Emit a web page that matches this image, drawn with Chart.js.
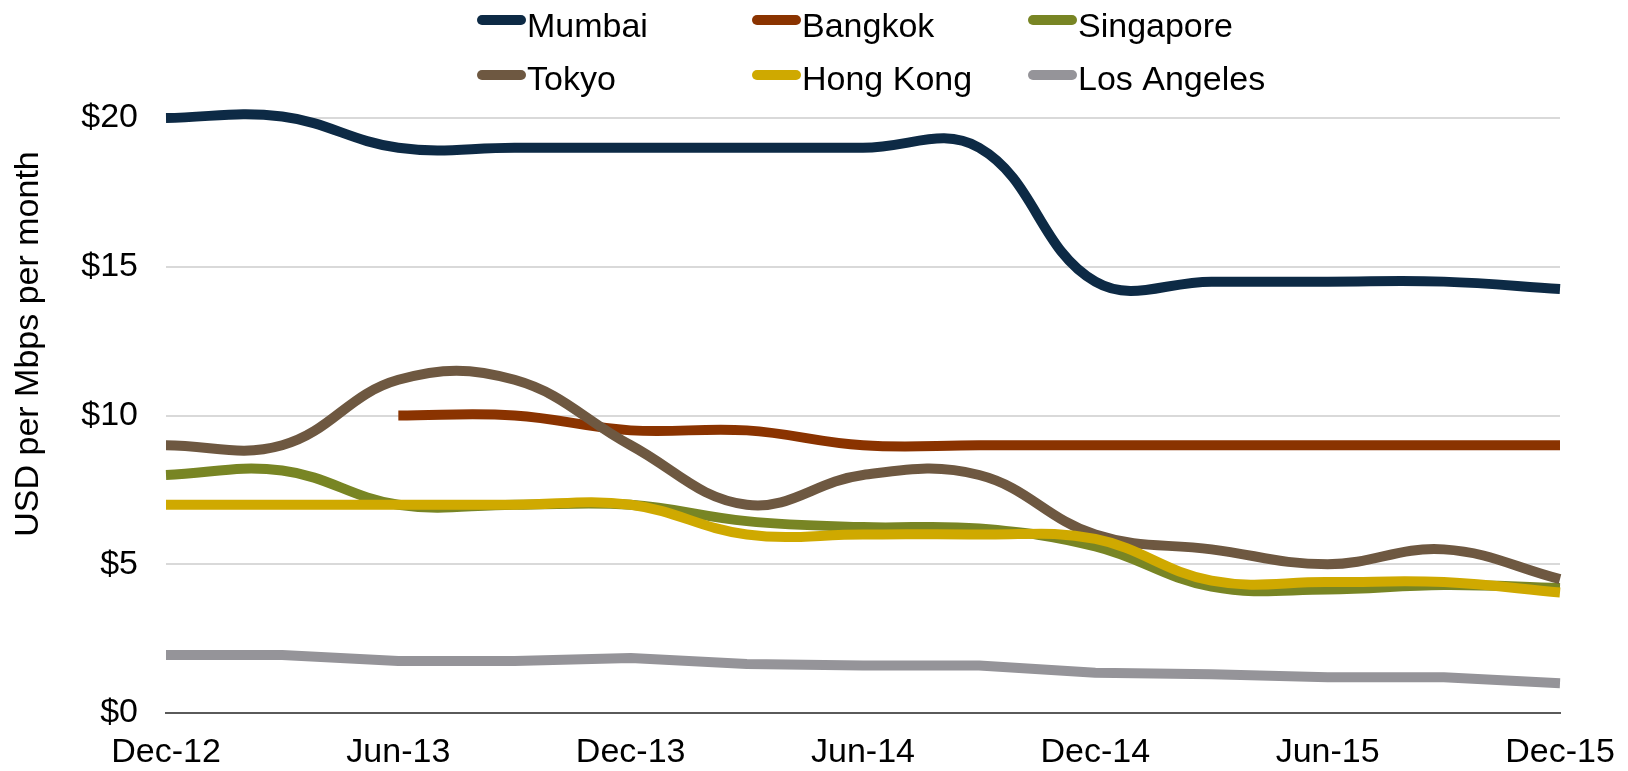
<!DOCTYPE html>
<html>
<head>
<meta charset="utf-8">
<script src="https://cdn.jsdelivr.net/npm/chart.js@4/dist/chart.umd.min.js"></script>
<style>
  html, body { margin: 0; padding: 0; background: #ffffff; }
  #wrap { width: 1628px; height: 771px; }
</style>
</head>
<body>
<div id="wrap"><canvas id="c" width="1628" height="771"></canvas></div>
<script>
// ---- data ----
const categories = ['Dec-12','Mar-13','Jun-13','Sep-13','Dec-13','Mar-14','Jun-14','Sep-14','Dec-14','Mar-15','Jun-15','Sep-15','Dec-15'];
const seriesNames = ['Mumbai','Bangkok','Singapore','Tokyo','Hong Kong','Los Angeles'];
const mumbai     = [20, 20.05, 19, 19, 19, 19, 19, 19, 14.5, 14.5, 14.5, 14.5, 14.25];
const bangkok    = [null, null, 10, 10, 9.5, 9.5, 9, 9, 9, 9, 9, 9, 9];
const singapore  = [8, 8.15, 7, 7, 7, 6.45, 6.25, 6.2, 5.6, 4.25, 4.15, 4.3, 4.2];
const tokyo      = [9, 9, 11.2, 11.2, 9, 7, 8, 8, 6, 5.5, 5, 5.5, 4.5];
const hongKong   = [7, 7, 7, 7, 7, 6, 6, 6, 5.85, 4.45, 4.4, 4.4, 4.05];
const losAngeles = [1.95, 1.95, 1.75, 1.75, 1.85, 1.65, 1.6, 1.6, 1.35, 1.3, 1.2, 1.2, 1.0];
const yTicks = [0, 5, 10, 15, 20];
const yTitle = 'USD per Mbps per month';

const colors = ['#0d2a45', '#8a3300', '#788524', '#6e5841', '#cfa900', '#959499'];
const values = [mumbai, bangkok, singapore, tokyo, hongKong, losAngeles];
const smooth = [true, true, true, true, true, false];

const FONT = '"Liberation Sans", Arial, Helvetica, sans-serif';
Chart.defaults.font.family = FONT;
Chart.defaults.color = '#000000';

const datasets = seriesNames.map((name, i) => ({
  label: name,
  data: values[i],
  borderColor: colors[i],
  backgroundColor: colors[i],
  borderWidth: 10,
  pointRadius: 0,
  pointHoverRadius: 0,
  tension: smooth[i] ? 0.4 : 0,
  fill: false,
  clip: false,
  borderCapStyle: 'butt',
  borderJoinStyle: 'round',
  order: seriesNames.length - 1 - i
}));

// custom legend (grid layout) + rotated axis title
const decorPlugin = {
  id: 'decor',
  afterDraw(chart) {
    const ctx = chart.ctx;
    ctx.save();
    const colX = [477, 752, 1028];
    const rowY = [20, 75];
    const baseY = [37, 90];
    ctx.font = '34px ' + FONT;
    ctx.textBaseline = 'alphabetic';
    ctx.textAlign = 'left';
    seriesNames.forEach((name, i) => {
      const col = i % 3, row = Math.floor(i / 3);
      const x0 = colX[col];
      ctx.strokeStyle = colors[i];
      ctx.lineWidth = 10;
      ctx.lineCap = 'round';
      ctx.beginPath();
      ctx.moveTo(x0 + 5, rowY[row]);
      ctx.lineTo(x0 + 44, rowY[row]);
      ctx.stroke();
      ctx.fillStyle = '#000000';
      ctx.fillText(name, x0 + 50, baseY[row]);
    });
    ctx.translate(38, 344);
    ctx.rotate(-Math.PI / 2);
    ctx.textAlign = 'center';
    ctx.textBaseline = 'alphabetic';
    ctx.font = '34px ' + FONT;
    ctx.fillStyle = '#000000';
    ctx.fillText(yTitle, 0, 0);
    ctx.restore();
  }
};

new Chart(document.getElementById('c'), {
  type: 'line',
  data: { labels: categories, datasets },
  options: {
    responsive: false,
    animation: false,
    devicePixelRatio: 1,
    layout: { padding: { top: 118, right: 68, bottom: 0, left: 0 } },
    plugins: {
      legend: { display: false },
      tooltip: { enabled: false },
      title: { display: false }
    },
    scales: {
      x: {
        type: 'category',
        offset: false,
        grid: { display: false, drawTicks: false },
        border: { display: true, color: '#5a5a5a', width: 2 },
        ticks: {
          autoSkip: false,
          maxRotation: 0,
          minRotation: 0,
          padding: 19,
          font: { size: 34 },
          color: '#000000',
          callback: function(v, idx) { return idx % 2 === 0 ? categories[idx] : ''; }
        },
        afterFit(scale) {
          scale.height = 58;
          scale.paddingLeft = 0;
          scale.paddingRight = 0;
        }
      },
      y: {
        min: 0,
        max: 20,
        afterBuildTicks(scale) { scale.ticks = yTicks.map(v => ({ value: v })); },
        grid: {
          drawTicks: false,
          lineWidth: 2,
          color: (c) => c.tick && c.tick.value === 0 ? 'rgba(0,0,0,0)' : '#d9d9d9'
        },
        border: { display: false },
        ticks: {
          padding: 28,
          font: { size: 34 },
          color: '#000000',
          callback: (v) => '$' + v
        },
        afterFit(scale) { scale.width = 166; }
      }
    }
  },
  plugins: [decorPlugin]
});
</script>
</body>
</html>
